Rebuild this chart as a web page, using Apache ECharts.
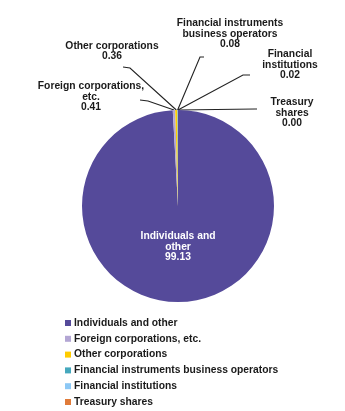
<!DOCTYPE html>
<html>
<head>
<meta charset="utf-8">
<script src="https://cdn.jsdelivr.net/npm/echarts@6/dist/echarts.min.js"></script>
<style>
  html, body { margin: 0; padding: 0; background: #fff; }
  #chart { width: 345px; height: 411px; }
</style>
</head>
<body>
<div id="chart"></div>
<script>
// Shareholder composition (%)
const categories = [
  'Individuals and other',
  'Foreign corporations, etc.',
  'Other corporations',
  'Financial instruments business operators',
  'Financial institutions',
  'Treasury shares'
];
const values = [99.13, 0.41, 0.36, 0.08, 0.02, 0.00];
// Wrapped names used in the slice labels
const labelNames = [
  'Individuals and\nother',
  'Foreign corporations,\netc.',
  'Other corporations',
  'Financial instruments\nbusiness operators',
  'Financial\ninstitutions',
  'Treasury\nshares'
];
const colors = ['#554a9a', '#b3a6d4', '#ffcc00', '#45a8bd', '#8cc8f5', '#e07b39'];

// Label anchor (text centre) and leader-line elbow/end for each slice
const labelPlacement = [
  { x: 178, y: 247 },
  { x: 91, y: 97, elbow: [148, 101], end: [140, 100] },
  { x: 112, y: 51, elbow: [130, 68], end: [123, 67] },
  { x: 230, y: 34, elbow: [200, 57], end: [204, 57] },
  { x: 290, y: 65, elbow: [243, 75], end: [250, 75] },
  { x: 292, y: 113, elbow: [255, 109], end: [257, 109] }
];

const FONT = 'Liberation Sans, Arial, sans-serif';

const chart = echarts.init(document.getElementById('chart'), null, { renderer: 'canvas' });

const data = categories.map((name, i) => ({
  name,
  value: values[i],
  itemStyle: { color: colors[i] },
  label: i === 0
    ? { position: 'inside', color: '#ffffff' }
    : { position: 'outside', color: '#1a1a1a' },
  labelLine: { show: i !== 0 }
}));

chart.setOption({
  animation: false,
  legend: {
    orient: 'vertical',
    left: 60,
    top: 313,
    height: 140,
    itemWidth: 6,
    itemHeight: 6,
    itemGap: 5.8,
    icon: 'rect',
    data: categories,
    textStyle: {
      fontFamily: FONT,
      fontWeight: 'bold',
      fontSize: 10.3,
      color: '#1a1a1a',
      padding: [0, 0, 0, -2]
    }
  },
  series: [{
    type: 'pie',
    center: [178, 206],
    radius: 96,
    startAngle: 90,
    clockwise: true,
    avoidLabelOverlap: false,
    minShowLabelAngle: 0,
    data,
    label: {
      show: true,
      fontFamily: FONT,
      fontWeight: 'bold',
      fontSize: 10.3,
      lineHeight: 10.6,
      align: 'center',
      formatter: p => labelNames[p.dataIndex] + '\n' + p.value.toFixed(2)
    },
    labelLine: {
      show: true,
      lineStyle: { color: '#222222', width: 1.1 }
    },
    labelLayout: function (params) {
      const pl = labelPlacement[params.dataIndex];
      const out = { x: pl.x, y: pl.y, align: 'center', verticalAlign: 'middle' };
      if (pl.elbow && params.labelLinePoints) {
        const start = params.labelLinePoints[0];
        out.labelLinePoints = [start, pl.elbow, pl.end];
      }
      return out;
    }
  }]
});
</script>
</body>
</html>
